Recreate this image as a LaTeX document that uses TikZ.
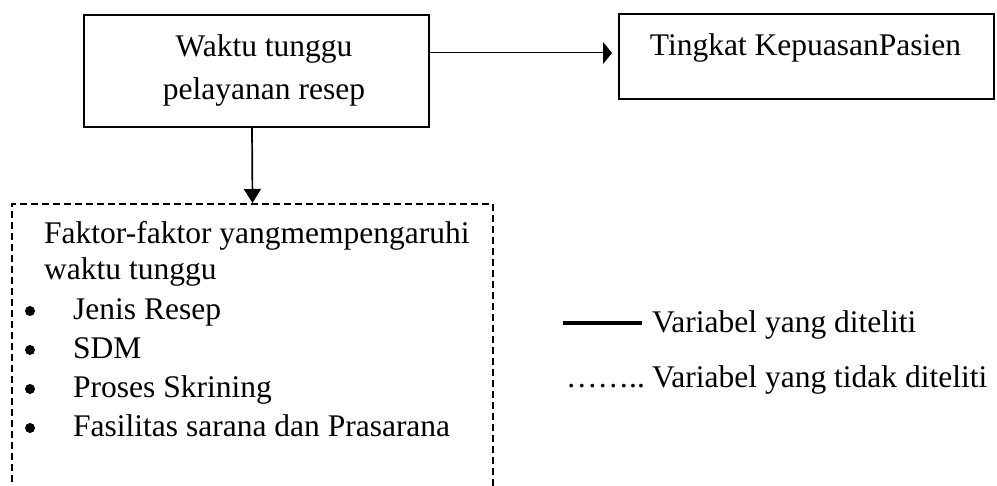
\documentclass[tikz,border=0pt]{standalone}
\usepackage{fontspec}
\setmainfont{Liberation Serif}
\usetikzlibrary{arrows.meta}
\begin{document}
\begin{tikzpicture}[x=1pt,y=-1pt,
  txt/.style={font=\fontsize{31.5}{38}\selectfont, inner sep=0pt, anchor=base west},
  ctxt/.style={txt, anchor=base},
  solidbox/.style={draw, line width=2pt, inner sep=0pt, anchor=north west},
  dashbox/.style={draw, line width=2pt, dash pattern=on 7pt off 4pt, inner sep=0pt, anchor=north west},
  bulletdot/.style={circle, fill, inner sep=0pt, minimum size=10pt},
  thinarrow/.style={line width=1pt, -{Triangle[length=9pt,width=22pt]}},
  downarrow/.style={line width=1.7pt, -{Triangle[length=14pt,width=17pt]}},
  legendline/.style={line width=3.5pt},
  ]
\clip (0,0) rectangle (997,486);
\path[use as bounding box] (0,0) rectangle (997,486);
\fill[white] (0,0) rectangle (997,486);

% boxes
\node[solidbox, minimum width=345pt, minimum height=112pt] (b1) at (83,14) {};
\node[solidbox, minimum width=375pt, minimum height=85pt] (b2) at (618,13) {};
\node[dashbox, minimum width=481pt, minimum height=340pt] (f) at (11,203) {};

% box texts
\node[ctxt] (t1a) at (264,57) {Waktu tunggu};
\node[ctxt] (t1b) at (264,100) {pelayanan resep};
\node[ctxt] (t2) at (805.5,56) {Tingkat KepuasanPasien};

\node[txt] (fa) at (44,244) {Faktor-faktor yangmempengaruhi};
\node[txt] (fb) at (44,280) {waktu tunggu};
\node[bulletdot] (d1) at (30,311) {};
\node[txt] (i1) at (73,320) {Jenis Resep};
\node[bulletdot] (d2) at (30,350) {};
\node[txt] (i2) at (73,359) {SDM};
\node[bulletdot] (d3) at (30,389) {};
\node[txt] (i3) at (73,398) {Proses Skrining};
\node[bulletdot] (d4) at (30,428) {};
\node[txt] (i4) at (73,437) {Fasilitas sarana dan Prasarana};

% connectors
\draw[thinarrow, shorten >=6pt] ([yshift=18pt]b1.east) -- ([yshift=18pt]b1.east -| b2.west);
\draw[downarrow] ([xshift=-4.5pt]b1.south) -- (f.north);

% legend
\coordinate (l1a) at (563,323);
\coordinate (l1b) at (642,323);
\draw[legendline] (l1a) -- (l1b);
\node[txt] (lg1) at (652,333) {Variabel yang diteliti};
\node[txt] (dots) at (566,388) {……..};
\node[txt] (lg2) at (652,388) {Variabel yang tidak diteliti};
\end{tikzpicture}
\end{document}
